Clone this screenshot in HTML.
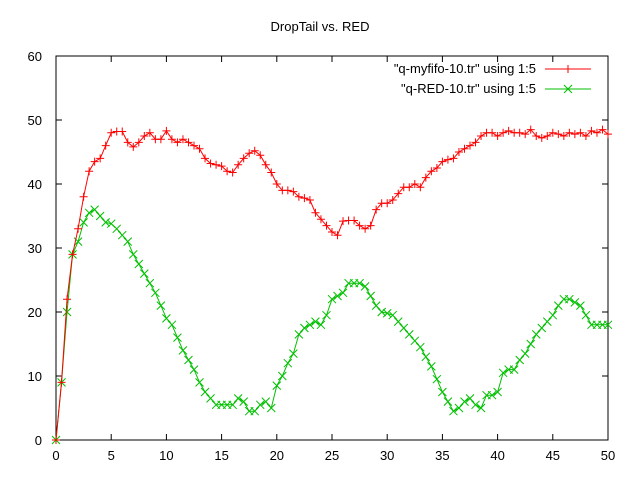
<!DOCTYPE html>
<html><head><meta charset="utf-8"><style>body{margin:0;background:#fff}svg{display:block;font-family:"Liberation Sans",sans-serif}</style></head>
<body>
<svg id="chart" width="640" height="480" xmlns="http://www.w3.org/2000/svg">
<text x="320" y="31" font-size="13" text-anchor="middle">DropTail vs. RED</text>
<g id="axes"></g><g id="series"></g>
<g>
<text x="536" y="73" font-size="13" text-anchor="end">"q-myfifo-10.tr" using 1:5</text>
<line x1="545" y1="69" x2="591" y2="69" stroke="#f00"/>
<path d="M564,69h8M568,65v8" stroke="#f00"/>
<text x="536" y="93" font-size="13" text-anchor="end">"q-RED-10.tr" using 1:5</text>
<line x1="545" y1="89" x2="591" y2="89" stroke="#00c000"/>
<path d="M564,85l8,8M564,93l8,-8" stroke="#00c000"/>
</g>
</svg>
<script>
const xs=[];for(let i=0;i<=100;i++)xs.push(i*0.5);
const redValues=[0,9,22,29,33,38,42,43.5,44,46,48,48.2,48.2,46.5,45.8,46.5,47.5,48,47,47,48.3,47,46.5,47,46.5,46,45.5,44,43.2,43,42.8,42,41.8,43,44,44.8,45.2,44.5,43,41.8,40,39,39,38.8,38,37.8,37.5,35.5,34.5,33.5,32.5,32,34.2,34.3,34.3,33.5,33,33.5,36,37,37,37.5,38.5,39.5,39.5,40,39.5,41,42,42.5,43.5,43.8,44,45,45.5,46,46.5,47.5,48,48,47.5,48,48.3,48,48,47.8,48.5,47.5,47.2,47.5,48,47.8,47.5,48,47.8,48,47.5,48.3,48,48.5,47.8];
const greenValues=[0,9,20,29,31,34,35.5,36,35,34,33.8,33,32,31,29,27.5,26,24.5,23,21,19,18,16,14,12.5,11,9,7.5,6.5,5.5,5.5,5.5,5.5,6.5,6,4.5,4.5,5.5,6,5,8.5,10,12,13.5,16.5,17.5,18,18.5,18,19.5,22,22.5,23,24.5,24.5,24.5,24,22.5,21,20,19.8,19.5,18.5,17.5,16.5,15.5,14.5,13,11.5,9.5,7.5,6,4.5,5,6,6.5,5.5,5,7,7,7.5,10.5,11,11,12.5,13.5,15,16.5,17.5,18.5,19.5,21,22,22,21.5,21,19.5,18,18,18,18];
const xTicks=[0,5,10,15,20,25,30,35,40,45,50];
const yTicks=[0,10,20,30,40,50,60];
const L=56,R=608,T=56,B=440;
const sx=v=>L+(v-0)/50*(R-L), sy=v=>B-(v/60)*(B-T);
const NS="http://www.w3.org/2000/svg";
function mk(tag,at,parent){const e=document.createElementNS(NS,tag);for(const k in at)e.setAttribute(k,at[k]);parent.appendChild(e);return e;}
const ax=document.getElementById('axes');
let fr=mk('rect',{x:L,y:T,width:R-L,height:B-T,fill:'none',stroke:'#000'},ax);


xTicks.forEach(t=>{const x=sx(t);
mk('line',{x1:x,y1:B,x2:x,y2:B-6,stroke:'#000'},ax);mk('line',{x1:x,y1:T,x2:x,y2:T+6,stroke:'#000'},ax);
const tx=mk('text',{x:x,y:B+20,'font-size':13,'text-anchor':'middle'},ax);tx.textContent=t;

});
yTicks.forEach(t=>{const y=sy(t);
mk('line',{x1:L,y1:y,x2:L+6,y2:y,stroke:'#000'},ax);mk('line',{x1:R,y1:y,x2:R-6,y2:y,stroke:'#000'},ax);
const tx=mk('text',{x:L-14,y:y+5,'font-size':13,'text-anchor':'end'},ax);tx.textContent=t;

});
const sg=document.getElementById('series');
function draw(vals,color,name,plus){
const g=mk('g',{},sg);


mk('polyline',{points:vals.map((v,i)=>sx(xs[i])+','+sy(v)).join(' '),fill:'none',stroke:color},g);
vals.forEach((v,i)=>{const x=sx(xs[i]),y=sy(v);
const p=plus?`M${x-4},${y}h8M${x},${y-4}v8`:`M${x-4},${y-4}l8,8M${x-4},${y+4}l8,-8`;
mk('path',{d:p,stroke:color,fill:'none'},g);});
}
draw(greenValues,'#00c000','series-red-queue',false);
draw(redValues,'#f00','series-myfifo-queue',true);
</script>
</body></html>
